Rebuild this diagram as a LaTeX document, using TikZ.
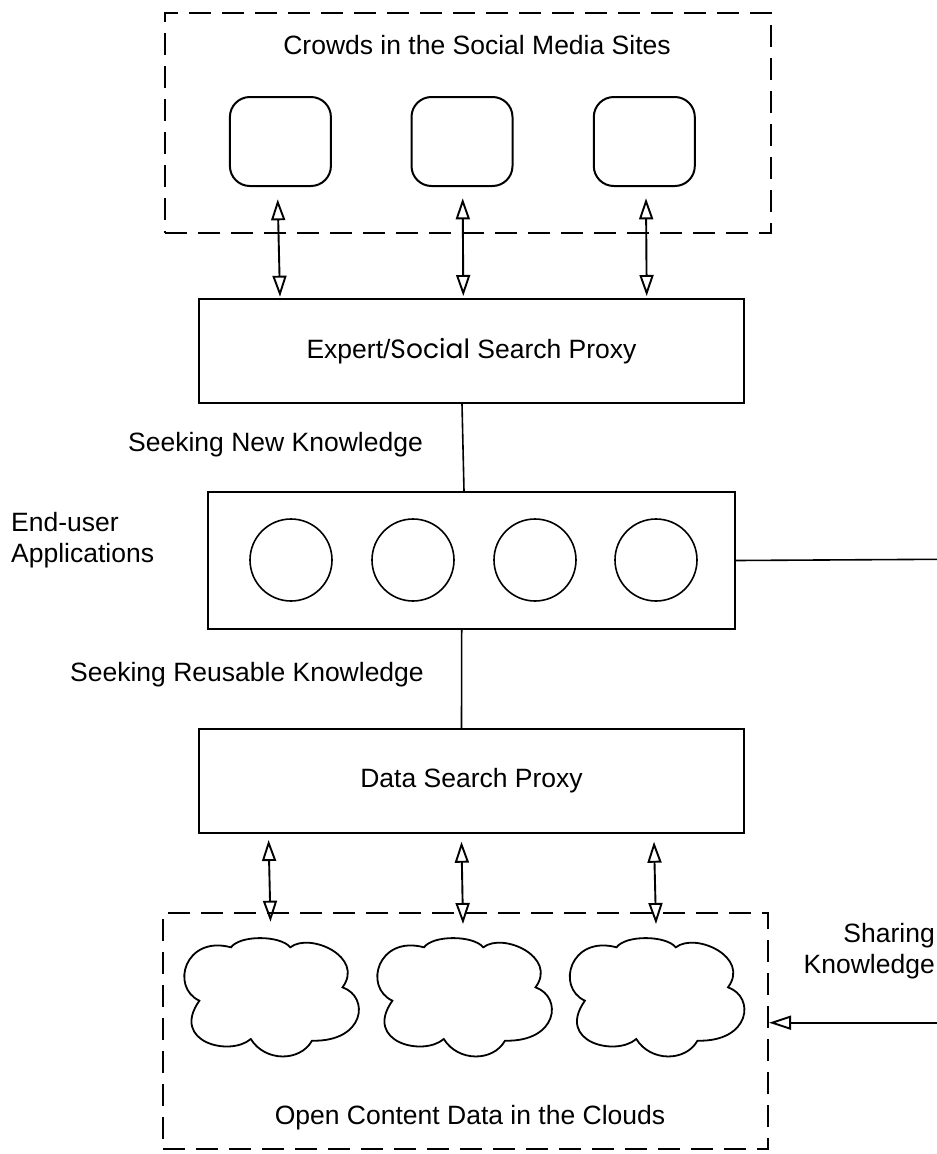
\documentclass[tikz,border=0pt]{standalone}
\usepackage{fontspec}
\setmainfont{Liberation Sans}
\newfontfamily\socialfont{Poppins}
\usetikzlibrary{arrows.meta}
\begin{document}
\begin{tikzpicture}[x=1pt,y=-1pt,
  every node/.style={font=\fontsize{26.5}{31}\selectfont, inner sep=0pt},
  dashbox/.style={draw, line width=2pt, dash pattern=on 22pt off 11pt},
  procbox/.style={draw, line width=2pt, minimum width=545pt, minimum height=104pt},
  crowdsq/.style={draw, line width=2pt, rounded corners=20pt, minimum width=101pt, minimum height=89pt},
  appcircle/.style={draw, circle, line width=1.6pt, minimum size=82pt},
  biarrow/.style={line width=1.9pt, {Triangle[open,length=21pt,width=14pt]}-{Triangle[open,length=21pt,width=14pt]}},
  onearrow/.style={line width=1.9pt, -{Triangle[open,length=22pt,width=14pt]}},
  plainline/.style={line width=1.6pt},
  cloudpic/.pic={
    \draw[line width=1.8pt] (-70.6,3.7) .. controls (-100,-10) and (-85,-62) .. (-39,-49.7)
      .. controls (-30,-62) and (10,-62) .. (20.3,-49.7)
      .. controls (40,-65) and (95,-40) .. (72.5,-9.7)
      .. controls (100,0) and (95,45) .. (42,43.7)
      .. controls (30,65) and (-5,65) .. (-19.2,42)
      .. controls (-40,60) and (-100,45) .. (-70.6,3.7) -- cycle;
  }]
\useasboundingbox (0,0) rectangle (937,1154);

% top container
\node[dashbox, minimum width=606pt, minimum height=220pt] (crowd) at (468,123) {};
\node[anchor=base] (crowdtitle) at (477,54.6) {Crowds in the Social Media Sites};
\node[crowdsq] (sq1) at (280.4,141.5) {};
\node[crowdsq] (sq2) at (462,141.5) {};
\node[crowdsq] (sq3) at (644.3,141.5) {};

% expert proxy
\node[procbox] (exp) at (471.5,351) {Expert/{\socialfont Social} Search Proxy};

% arrows top
\coordinate (a1t) at (277.7,199.3); \coordinate (a1b) at (280,296.7);
\coordinate (a2t) at (462.7,198.3); \coordinate (a2b) at (463.3,296);
\coordinate (a3t) at (646,198.3);   \coordinate (a3b) at (646.7,296);
\draw[biarrow] (a1t) -- (a1b);
\draw[biarrow] (a2t) -- (a2b);
\draw[biarrow] (a3t) -- (a3b);

% applications
\node[draw, line width=2pt, minimum width=527pt, minimum height=137pt] (app) at (471.5,560.5) {};
\node[appcircle] (c1) at (291,560) {};
\node[appcircle] (c2) at (413,560) {};
\node[appcircle] (c3) at (535,560) {};
\node[appcircle] (c4) at (656,560) {};
\node[anchor=base west, align=left] (applabel) at (11,562) {End-user\\Applications};

\node[anchor=base west] (seeknew) at (128,451) {Seeking New Knowledge};
\draw[plainline] ([xshift=-9.5pt]exp.south) -- ([xshift=-7.5pt]app.north);

\node[anchor=base east] (seekreuse) at (424,681) {Seeking Reusable Knowledge};

% data proxy
\node[procbox] (data) at (471.5,781) {Data Search Proxy};
\draw[plainline] ([xshift=-9.8pt]app.south) -- ([xshift=-10pt]data.north);

% arrows bottom
\coordinate (b1t) at (268.6,840);   \coordinate (b1b) at (270.5,921.7);
\coordinate (b2t) at (461.5,841.7); \coordinate (b2b) at (463,924);
\coordinate (b3t) at (654,841.7);   \coordinate (b3b) at (656,924);
\draw[biarrow] (b1t) -- (b1b);
\draw[biarrow] (b2t) -- (b2b);
\draw[biarrow] (b3t) -- (b3b);

% bottom container
\node[dashbox, minimum width=605pt, minimum height=236pt] (open) at (465.5,1031) {};
\pic at (270,997) {cloudpic};
\pic at (463,997) {cloudpic};
\pic at (655.5,997) {cloudpic};
\node[anchor=base] (opentitle) at (470,1124) {Open Content Data in the Clouds};

% right side
\coordinate (rtop) at (938,559.3);
\draw[plainline] (app.east) -- (rtop);
\node[anchor=base east, align=right] (share) at (935,973) {Sharing\\Knowledge};
\coordinate (rbot) at (938,1022.7);
\draw[onearrow] (rbot) -- (open.east |- rbot);
\end{tikzpicture}
\end{document}
